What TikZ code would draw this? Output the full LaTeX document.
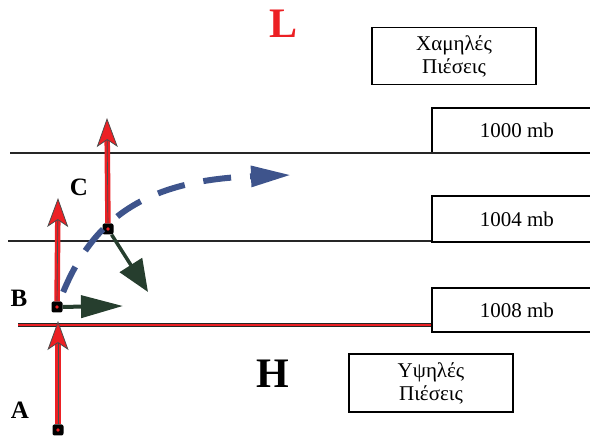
\documentclass[tikz,border=0pt]{standalone}
\usepackage{fontspec}
\setmainfont{Liberation Serif}
\usetikzlibrary{arrows.meta,positioning,calc}
\definecolor{liftred}{RGB}{236,32,36}
\definecolor{driftblue}{RGB}{62,84,140}
\definecolor{flowgreen}{RGB}{38,62,46}
\begin{document}
\begin{tikzpicture}[
  x=1pt, y=-1pt,
  isobar/.style={draw, line width=2.6pt, black!85},
  labelbox/.style={rectangle, draw, line width=1.8pt, fill=white, align=center, inner sep=0pt, font=\fontsize{21}{23}\selectfont},
  mbbox/.style={labelbox, anchor=north west, minimum width=170pt},
  parcel/.style={rectangle, fill=black, rounded corners=2pt, minimum size=11pt, inner sep=0pt},
  letter/.style={font=\fontsize{25}{27}\selectfont\bfseries},
  rise/.style={liftred, line width=5.5pt, -{Stealth[length=29pt, width=21pt, inset=7pt, color=black!70, fill=liftred, line width=0.8pt]}},
  flow/.style={flowgreen, line width=4pt},
  drift/.style={driftblue, line width=6pt, dash pattern=on 28pt off 19pt, -{Triangle[length=40pt, width=20pt, fill=driftblue]}},
]
  \useasboundingbox (0,0) rectangle (590,438);
  \clip (0,0) rectangle (590,438);

  % Pressure centres
  \node[text=liftred, font=\fontsize{42}{44}\selectfont\bfseries] (low) at (284,24) {L};
  \node[font=\fontsize{42}{44}\selectfont\bfseries] (high) at (273,374) {H};
  \node[labelbox, minimum width=164pt, minimum height=57pt] (lowbox) at (454,56) {Χαμηλές\\Πιέσεις};
  \node[labelbox, minimum width=164pt, minimum height=58pt] (highbox) at (431,383) {Υψηλές\\Πιέσεις};

  % Isobar boxes
  \node[mbbox, minimum height=45pt] (box1000) at (431,107) {1000 mb};
  \node[mbbox, minimum height=46pt] (box1004) at (431,195) {1004 mb};
  \node[mbbox, minimum height=44pt] (box1008) at (431,287) {1008 mb};

  % Isobars
  \coordinate (w1000) at (10,153);
  \coordinate (e1000) at (540,153);
  \coordinate (w1004) at (8,241);
  \coordinate (w1008) at (18,325);
  \draw[isobar] (w1000) -- (e1000);
  \draw[isobar] (w1004) -- (w1004 -| box1004.west);
  \draw[black!85, line width=4.5pt] (w1008) -- (w1008 -| box1008.west);
  \draw[liftred, line width=1.6pt] (w1008) -- (w1008 -| box1008.west);

  % Air parcels
  \node[parcel] (A) at (58,430) {};
  \node[parcel] (B) at (57,307) {};
  \node[parcel] (C) at (108,229) {};
  \node[letter] (labA) at (20,410) {A};
  \node[letter] (labB) at (19,298) {B};
  \node[letter] (labC) at (79,187) {C};

  % Arrow ends
  \coordinate (topA) at (58,321);
  \coordinate (topB) at (58,198);
  \coordinate (topC) at (107,118);
  \coordinate (windB) at (123,306);
  \coordinate (windC) at (148,292);
  \coordinate (driftEnd) at (291,175);

  % Blue path of the parcel
  \draw[drift, shorten <=10pt] (B) .. controls (95,215) and (150,180) .. (driftEnd);

  % Rising motion
  \foreach \p in {A,B,C}
  {
    \draw[rise] (\p) -- (top\p);
    \draw[black!70, line width=0.7pt] (\p) -- ($(\p)!0.8!(top\p)$);
    \fill[liftred] (\p) circle (1.8pt);
  }

  % Winds
  \draw[flow, -{Triangle[length=42pt, width=22pt, fill=flowgreen]}] (B) -- (windB);
  \draw[flow, line width=3.5pt, -{Triangle[length=32pt, width=26pt, fill=flowgreen]}] (C) -- (windC);
\end{tikzpicture}
\end{document}
